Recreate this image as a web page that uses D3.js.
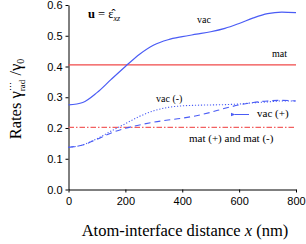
<!DOCTYPE html>
<html>
<head>
<meta charset="utf-8">
<script src="https://cdnjs.cloudflare.com/ajax/libs/d3/7.8.5/d3.min.js"></script>
<style>
  body { margin: 0; background: #fff; }
  svg { display: block; }
</style>
</head>
<body>
<div id="chart"></div>
<script>
// data
var xs = [0, 50, 100, 150, 200, 250, 300, 350, 400, 450, 500, 550, 600, 650, 700, 750, 800];
var vac = [0.275, 0.283, 0.315, 0.358, 0.400, 0.440, 0.470, 0.487, 0.497, 0.505, 0.513, 0.524, 0.540, 0.558, 0.572, 0.577, 0.575];
var vacMinus = [0.137, 0.145, 0.165, 0.190, 0.214, 0.238, 0.256, 0.267, 0.272, 0.274, 0.275, 0.276, 0.278, 0.282, 0.285, 0.288, 0.288];
var vacPlus = [0.137, 0.145, 0.163, 0.184, 0.199, 0.210, 0.219, 0.226, 0.232, 0.240, 0.251, 0.264, 0.275, 0.283, 0.288, 0.290, 0.288];
var mat = 0.405;
var matPM = 0.202;
var xTicks = [0, 200, 400, 600, 800];
var yTicks = [0.0, 0.1, 0.2, 0.3, 0.4, 0.5, 0.6];

var width = 306, height = 244;
var blue = "#4a5cf5", red = "#f04848";

var svg = d3.select("#chart").append("svg")
	.attr("width", width)
	.attr("height", height);

var x = d3.scaleLinear().domain([0, 800]).range([68.5, 296]);
var y = d3.scaleLinear().domain([0, 0.6]).range([189.5, 5]);

// axes
var xAxis = svg.append("g")
	.attr("transform", "translate(0," + y(0) + ")")
	.call(d3.axisBottom(x).tickValues(xTicks).tickFormat(d3.format("d")).tickSize(3).tickSizeOuter(0));
var yAxis = svg.append("g")
	.attr("transform", "translate(" + x(0) + ",0)")
	.call(d3.axisLeft(y).tickValues(yTicks).tickFormat(d3.format(".1f")).tickSize(3).tickSizeOuter(0));

[xAxis, yAxis].forEach(function(a) {
	a.selectAll("text").attr("font-family", "Liberation Sans, Arial, sans-serif").attr("font-size", 11).attr("fill", "#000");
	a.select(".domain").attr("stroke", "#000");
	a.selectAll(".tick line").attr("stroke", "#000");
});
xAxis.selectAll("text").attr("dy", "0.85em");

var line = d3.line()
	.x(function(d) { return x(d[0]); })
	.y(function(d) { return y(d[1]); })
	.curve(d3.curveMonotoneX);

function pairs(vals) {
	return xs.map(function(v, i) { return [v, vals[i]]; });
}

// horizontal red lines
svg.append("line")
	.attr("x1", x(0)).attr("x2", x(800))
	.attr("y1", y(mat)).attr("y2", y(mat))
	.attr("stroke", red).attr("stroke-width", 1.2);
svg.append("line")
	.attr("x1", x(0)).attr("x2", x(800))
	.attr("y1", y(matPM)).attr("y2", y(matPM))
	.attr("stroke", "#f26060").attr("stroke-width", 1.2)
	.attr("stroke-dasharray", "5.5,2,1.5,2");

// blue curves
svg.append("path").datum(pairs(vac))
	.attr("d", line).attr("fill", "none")
	.attr("stroke", blue).attr("stroke-width", 1.2);
svg.append("path").datum(pairs(vacMinus))
	.attr("d", line).attr("fill", "none")
	.attr("stroke", blue).attr("stroke-width", 1.1)
	.attr("stroke-dasharray", "1.2,1.8");
svg.append("path").datum(pairs(vacPlus))
	.attr("d", line).attr("fill", "none")
	.attr("stroke", blue).attr("stroke-width", 1.1)
	.attr("stroke-dasharray", "6,4");

// arrow for vac (+)
svg.append("defs").append("marker")
	.attr("id", "arr").attr("viewBox", "0 0 10 10")
	.attr("refX", 1).attr("refY", 5)
	.attr("markerWidth", 5).attr("markerHeight", 5)
	.attr("orient", "auto")
	.append("path").attr("d", "M10,1 L0,5 L10,9 Z").attr("fill", blue);
svg.append("line")
	.attr("x1", 249).attr("y1", 114.5).attr("x2", 235).attr("y2", 114.5)
	.attr("stroke", blue).attr("stroke-width", 1)
	.attr("marker-end", "url(#arr)");

// annotations
var serif = "Liberation Serif, Times New Roman, serif";
function note(tx, ty, str, size) {
	return svg.append("text").attr("x", tx).attr("y", ty)
		.attr("font-family", serif).attr("font-size", size || 10).attr("fill", "#000")
		.text(str);
}
note(197, 23, "vac");
note(272, 57, "mat");
note(156, 102, "vac (-)");
note(257, 117, "vac (+)", 11);
note(189, 142, "mat (+) and mat (-)", 11);

var u = svg.append("text").attr("x", 88).attr("y", 18)
	.attr("font-family", serif).attr("font-size", 12.5).attr("fill", "#000");
u.append("tspan").attr("font-weight", "bold").text("u");
u.append("tspan").text(" = ");
u.append("tspan").text("\u03B5\u0302");
u.append("tspan").attr("font-size", 8).attr("font-style", "italic").attr("dy", 3).text("xz");

// axis titles
var xt = svg.append("text").attr("x", 185).attr("y", 236)
	.attr("text-anchor", "middle")
	.attr("font-family", serif).attr("font-size", 16.5).attr("fill", "#000");
xt.append("tspan").text("Atom-interface distance ");
xt.append("tspan").attr("font-style", "italic").text("x");
xt.append("tspan").text(" (nm)");

var yt = svg.append("text")
	.attr("transform", "translate(21," + 99 + ") rotate(-90)")
	.attr("text-anchor", "middle")
	.attr("font-family", serif).attr("font-size", 16.5).attr("fill", "#000");
yt.append("tspan").text("Rates \u03B3");
yt.append("tspan").attr("font-size", 9).attr("dy", -7).text("\u22EF");
yt.append("tspan").attr("font-size", 9).attr("dx", -9).attr("dy", 11).text("rad");
yt.append("tspan").attr("dy", -4).text(" /\u03B3");
yt.append("tspan").attr("font-size", 10).attr("dy", 3).text("0");
</script>
</body>
</html>
